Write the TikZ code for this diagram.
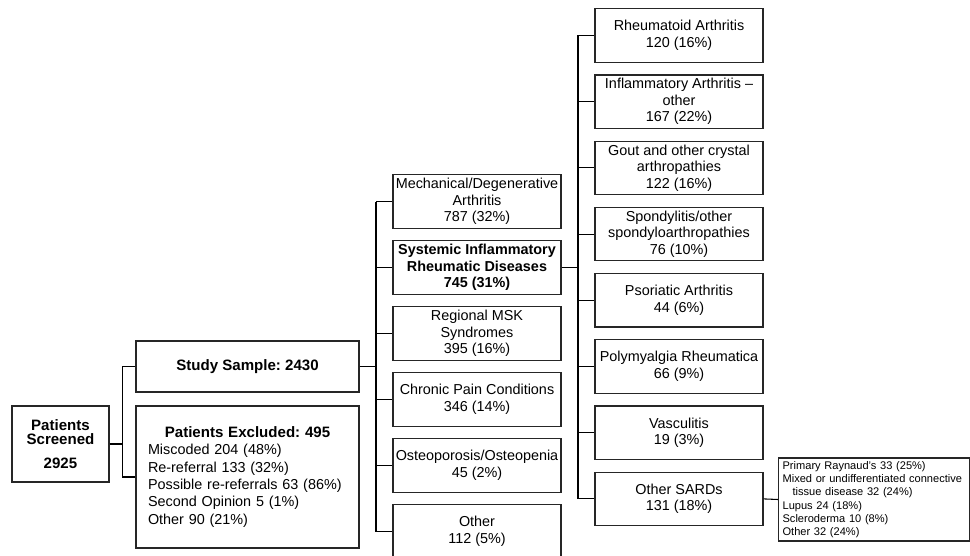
\documentclass[tikz,border=0pt]{standalone}
\usepackage{fontspec}
\setmainfont{Liberation Sans}
\usetikzlibrary{calc}
\frenchspacing
\hyphenpenalty=10000

\tikzset{
  box/.style={draw=black!85, line width=.9pt, align=center, inner sep=1.5pt,
    font=\fontsize{10.8}{12.4}\selectfont},
  catbox/.style={box, minimum width=126pt, minimum height=40pt},
  link/.style={line width=.8pt},
  mainlink/.style={line width=1.3pt},
}

\begin{document}
\begin{tikzpicture}[yscale=-1,x=.75pt,y=.75pt]
        \clip (0,0) rectangle (970,556);

        % screening and the first split
        \node[box, minimum width=72.75pt, minimum height=57pt,
          font=\fontsize{11.3}{10.5}\selectfont\bfseries] (scr) at (60.5,444)
          {Patients\\Screened\\[7pt]2925};
        \node[box, minimum width=167.25pt, minimum height=38.25pt,
          font=\fontsize{11.3}{13}\selectfont\bfseries] (study) at (247.5,366.5)
          {Study Sample: 2430};
        \node[box, align=left, text width=149.25pt, inner xsep=9pt, minimum height=106.5pt,
          font=\fontsize{10.8}{13}\selectfont] (excl) at (247.5,477)
          {\makebox[\hsize]{\fontsize{11.3}{13}\selectfont\bfseries Patients Excluded: 495}\\
           Miscoded 204 (48\%)\\
           Re-referral 133 (32\%)\\
           Possible re-referrals 63 (86\%)\\
           Second Opinion 5 (1\%)\\
           Other 90 (21\%)};

        % diagnosis groups
        \node[catbox] (mech) at (477,201.5) {Mechanical/Degenerative\\Arthritis\\787 (32\%)};
        \node[catbox, font=\fontsize{10.8}{12.4}\selectfont\bfseries] (sird) at (477,267.5)
          {Systemic Inflammatory\\Rheumatic Diseases\\745 (31\%)};
        \node[catbox] (msk) at (477,333.5) {Regional MSK\\Syndromes\\395 (16\%)};
        \node[catbox] (pain) at (477,399.5) {Chronic Pain Conditions\\346 (14\%)};
        \node[catbox] (osteo) at (477,465.5) {Osteoporosis/Osteopenia\\45 (2\%)};
        \node[catbox] (other) at (477,531.5) {Other\\112 (5\%)};

        % SARD subgroups
        \node[catbox] (ra) at (679,35.5) {Rheumatoid Arthritis\\120 (16\%)};
        \node[catbox] (ia) at (679,101.7) {Inflammatory Arthritis --\\other\\167 (22\%)};
        \node[catbox] (gout) at (679,167.9) {Gout and other crystal\\arthropathies\\122 (16\%)};
        \node[catbox] (spa) at (679,234.1) {Spondylitis/other\\spondyloarthropathies\\76 (10\%)};
        \node[catbox] (psa) at (679,300.3) {Psoriatic Arthritis\\44 (6\%)};
        \node[catbox] (pmr) at (679,366.5) {Polymyalgia Rheumatica\\66 (9\%)};
        \node[catbox] (vasc) at (679,432.7) {Vasculitis\\19 (3\%)};
        \node[catbox] (sards) at (679,498.9) {Other SARDs\\131 (18\%)};

        \node[box, anchor=west, align=left, text width=137pt, inner xsep=3pt, inner ysep=2pt,
          minimum height=62.25pt, font=\fontsize{8.3}{10}\selectfont] (sub) at (778,499.5)
          {Primary Raynaud's 33 (25\%)\\
           Mixed or undifferentiated connective\\
           \hspace*{7.5pt}tissue disease 32 (24\%)\\
           Lupus 24 (18\%)\\
           Scleroderma 10 (8\%)\\
           Other 32 (24\%)};

        % connectors
        \draw[link] (scr.east) -- ++(13,0) coordinate (fork);
        \draw[link] (study.west) -| (fork) |- (excl.west);

        \coordinate (busa) at ($(study.east)!.5!(mech.west)$);
        \draw[mainlink] (study.east) -- (study.east -| busa);
        \draw[link] (busa |- mech.west) -- (busa |- other.west);
        \foreach \n in {mech,sird,msk,pain,osteo,other} {
          \draw[link] (busa |- \n.west) -- (\n.west);
        }

        \coordinate (busb) at ($(sird.east)!.5!(ra.west)$);
        \draw[mainlink] (sird.east) -- (sird.east -| busb);
        \draw[link] (busb |- ra.west) -- (busb |- sards.west);
        \foreach \n in {ra,ia,gout,spa,psa,pmr,vasc,sards} {
          \draw[link] (busb |- \n.west) -- (\n.west);
        }

        \draw[link] (sards.east) -- (sub.west);
    \end{tikzpicture}
\end{document}
